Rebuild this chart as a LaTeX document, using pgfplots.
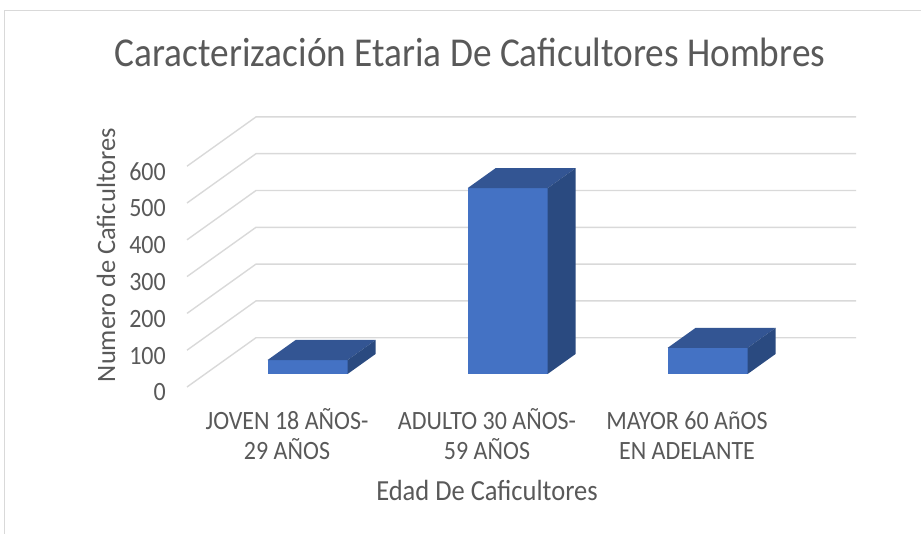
\documentclass[border=0pt]{standalone}
\usepackage{pgfplots}
\pgfplotsset{compat=1.18}
\usepackage{fontspec}
\setmainfont{Carlito}
\definecolor{txt}{HTML}{595959}
\definecolor{gridc}{HTML}{D9D9D9}
\definecolor{frontc}{HTML}{4472C4}
\definecolor{topc}{HTML}{335593}
\definecolor{sidec}{HTML}{2A4A80}
% bar3d{x0}{x1}{value}
\newcommand{\barthreed}[3]{%
  \addplot3[fill=frontc, draw=none, mark=none] coordinates {(#1,0.264,0) (#2,0.264,0) (#2,0.264,#3) (#1,0.264,#3)};
  \addplot3[fill=topc, draw=none, mark=none] coordinates {(#1,0.264,#3) (#2,0.264,#3) (#2,0.67,#3) (#1,0.67,#3)};
  \addplot3[fill=sidec, draw=none, mark=none] coordinates {(#2,0.264,0) (#2,0.67,0) (#2,0.67,#3) (#2,0.264,#3)};
}
\begin{document}
\begin{tikzpicture}
% frame
\draw[gridc, line width=1pt] (-182pt,-150pt) -- (-182pt,376pt) -- (740pt,376pt);
% 3D drawing axis
\begin{axis}[at={(0pt,0pt)}, anchor=origin,
  x={(200pt,0pt)}, y={(69pt,49.3pt)}, z={(0pt,0.368pt)},
  xmin=0, xmax=3, ymin=0, ymax=1, zmin=0, zmax=600,
  hide axis, clip=false]
  \pgfplotsinvokeforeach{0,100,200,300,400,500,600}{
    \draw[gridc, line width=1.4pt] (axis cs:0,0,#1) -- (axis cs:0,1,#1) -- (axis cs:3,1,#1);
  }
  \barthreed{0.312}{0.712}{38}
  \barthreed{1.312}{1.712}{505}
  \barthreed{2.312}{2.712}{71}
\end{axis}
% 2D label axis
\begin{axis}[at={(0pt,0pt)}, anchor=origin,
  x={(200pt,0pt)}, y={(0pt,0.368pt)},
  xmin=0, xmax=3, ymin=0, ymax=600,
  axis line style={draw=none}, major tick length=0pt,
  clip=false,
  xtick={0.5,1.5,2.5},
  xticklabels={{\strut JOVEN 18 AÑOS-\\29 AÑOS},{\strut ADULTO 30 AÑOS-\\59 AÑOS},{\strut MAYOR 60 AñOS\\EN ADELANTE}},
  ytick={0,100,200,300,400,500,600},
  tick label style={font=\fontsize{24}{27.5}\selectfont, text=txt, yscale=1.1},
  /pgf/number format/assume math mode=true,
  xticklabel style={align=center, inner sep=0pt, anchor=north, yshift=-19pt},
  yticklabel style={inner sep=0pt, anchor=east, xshift=-21pt, yshift=-5pt},
  xlabel={Edad De Caficultores},
  ylabel={Numero de Caficultores},
  xlabel style={font=\fontsize{26.5}{30}\selectfont, text=txt, yscale=1.1, at={(axis description cs:0.5,-0.4665)}, anchor=center},
  ylabel style={font=\fontsize{26.5}{30}\selectfont, text=txt, at={(axis description cs:-0.135,0.598)}, anchor=center},
  title={Caracterización Etaria De Caficultores Hombres},
  title style={font=\fontsize{37.3}{42}\selectfont, text=txt, yscale=1.1, at={(axis description cs:0.4717,1)}, anchor=center, yshift=98pt},
]
\end{axis}
\pgfresetboundingbox
\path (-187pt,-146pt) rectangle (734pt,387pt);
\end{tikzpicture}
\end{document}
